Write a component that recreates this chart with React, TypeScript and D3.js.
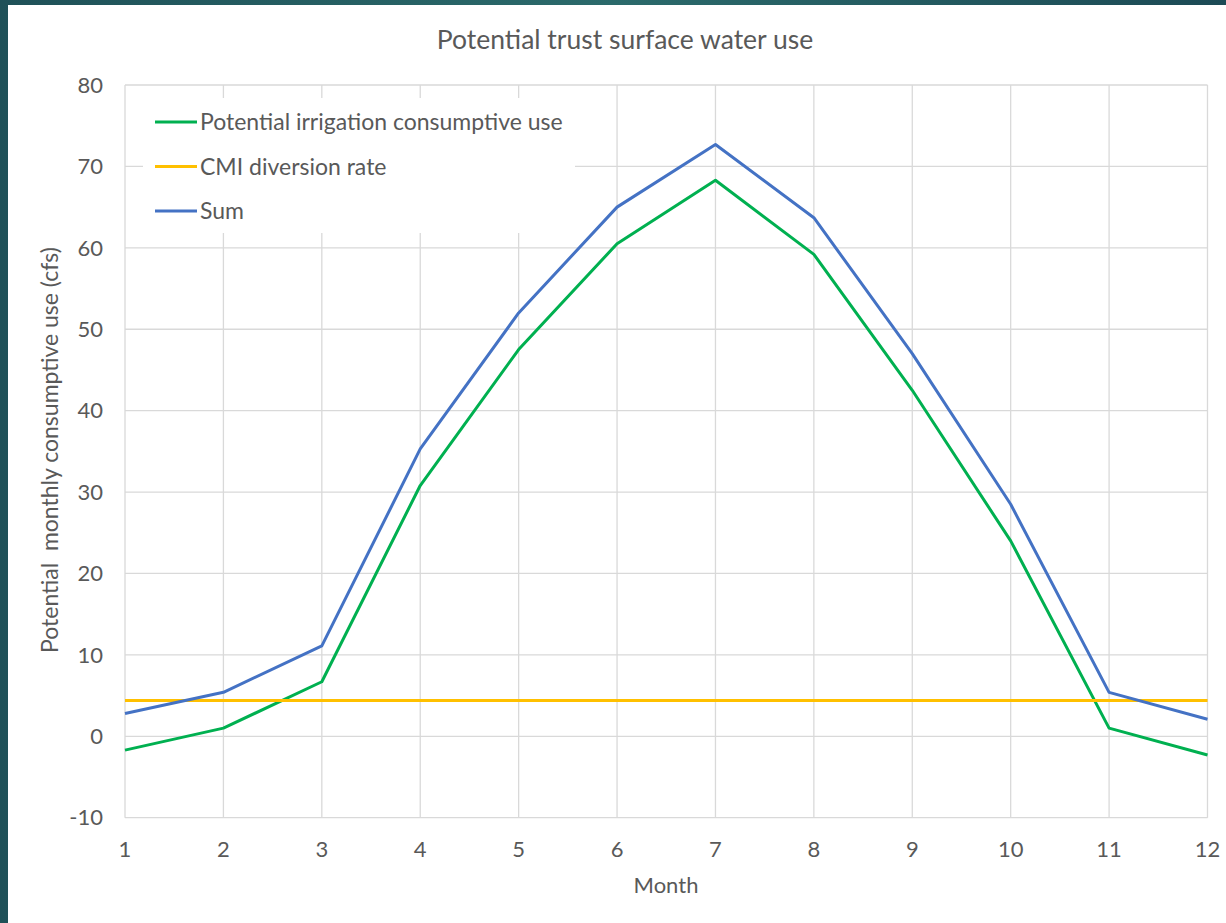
import * as d3 from "d3";
import React from "react";

const months = [1, 2, 3, 4, 5, 6, 7, 8, 9, 10, 11, 12];
const irrigationUse = [-1.7, 1.0, 6.7, 30.8, 47.5, 60.5, 68.3, 59.2, 42.5, 24.0, 1.0, -2.3];
const cmiDiversion = [4.4, 4.4, 4.4, 4.4, 4.4, 4.4, 4.4, 4.4, 4.4, 4.4, 4.4, 4.4];
const sumUse = [2.8, 5.4, 11.1, 35.3, 52.0, 65.0, 72.7, 63.7, 47.0, 28.5, 5.4, 2.1];
const yTicks = [-10, 0, 10, 20, 30, 40, 50, 60, 70, 80];

const series = [
  { name: "Potential irrigation consumptive use", values: irrigationUse, color: "#00b050" },
  { name: "CMI diversion rate", values: cmiDiversion, color: "#ffc000" },
  { name: "Sum", values: sumUse, color: "#4472c4" },
];

const W = 1226;
const H = 923;
const font = "Lato, 'Open Sans', sans-serif";
const textColor = "#595959";
const gridColor = "#d9d9d9";

const App = () => {
  const x = d3.scaleLinear().domain([1, 12]).range([125, 1207.5]);
  const y = d3.scaleLinear().domain([-10, 80]).range([817.7, 85]);

  const lineGen = (vals: number[]) =>
    d3
      .line<number>()
      .x((_, i) => x(months[i]))
      .y((v) => y(v))(vals)!;

  return (
    <div style={{ position: "fixed", left: 0, top: 0 }}>
      <svg width={W} height={H} style={{ display: "block" }}>
        <defs>
          <linearGradient id="frame" x1="0" y1="0" x2="1" y2="0">
            <stop offset="0" stopColor="#1f5158" />
            <stop offset="0.5" stopColor="#2b6a6b" />
            <stop offset="1" stopColor="#1c4a55" />
          </linearGradient>
        </defs>
        <rect width={W} height={H} fill="url(#frame)" />
        <rect x={8} y={5} width={W - 8} height={H - 5} fill="#ffffff" />

        <text
          x={625}
          y={49}
          textAnchor="middle"
          fontFamily={font}
          fontSize={26.5}
          fill={textColor}
        >
          Potential trust surface water use
        </text>

        {/* grid */}
        {yTicks.map((t) => (
          <line
            key={"h" + t}
            x1={x(1)}
            x2={x(12)}
            y1={y(t)}
            y2={y(t)}
            stroke={gridColor}
            strokeWidth={1.3}
          />
        ))}
        {months.map((m) => (
          <line
            key={"v" + m}
            x1={x(m)}
            x2={x(m)}
            y1={y(80)}
            y2={y(-10)}
            stroke={gridColor}
            strokeWidth={1.3}
          />
        ))}

        {/* y tick labels */}
        {yTicks.map((t) => (
          <text
            key={"yl" + t}
            x={103}
            y={y(t)}
            dy="0.35em"
            textAnchor="end"
            fontFamily={font}
            fontSize={22}
            fill={textColor}
          >
            {t}
          </text>
        ))}
        {/* x tick labels */}
        {months.map((m) => (
          <text
            key={"xl" + m}
            x={x(m)}
            y={857}
            textAnchor="middle"
            fontFamily={font}
            fontSize={22}
            fill={textColor}
          >
            {m}
          </text>
        ))}

        <text
          x={666}
          y={893}
          textAnchor="middle"
          fontFamily={font}
          fontSize={22}
          fill={textColor}
        >
          Month
        </text>
        <text
          transform={`translate(58, ${450}) rotate(-90)`}
          textAnchor="middle"
          fontFamily={font}
          fontSize={23}
          fill={textColor}
          style={{ whiteSpace: "pre" }}
        >
          {"Potential  monthly consumptive use (cfs)"}
        </text>

        {/* series */}
        {series.map((s) => (
          <path
            key={s.name}
            d={lineGen(s.values)}
            fill="none"
            stroke={s.color}
            strokeWidth={3}
            strokeLinejoin="round"
          />
        ))}

        {/* legend */}
        <rect x={143} y={98} width={432} height={135} fill="#ffffff" />
        {series.map((s, i) => (
          <g key={"lg" + s.name} transform={`translate(155, ${122 + i * 44.5})`}>
            <line x1={0} x2={42} y1={0} y2={0} stroke={s.color} strokeWidth={3} />
            <text
              x={45}
              y={0}
              dy="0.35em"
              fontFamily={font}
              fontSize={23}
              fill={textColor}
            >
              {s.name}
            </text>
          </g>
        ))}
      </svg>
    </div>
  );
};

export default App;
